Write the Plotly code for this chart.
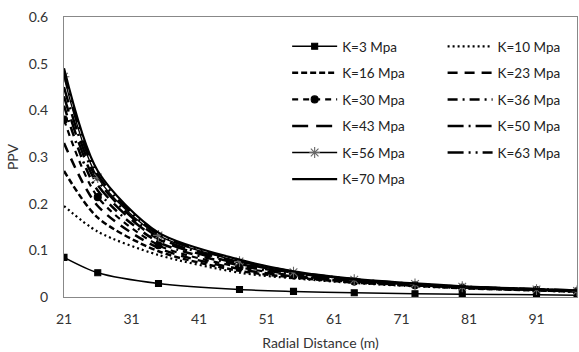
import plotly.graph_objects as go

# Radial distance (m)
distance = [21, 26, 35, 47, 55, 64, 73, 80, 91, 97]

# PPV values, one list per K value
ppv_k3  = [0.085, 0.052, 0.029, 0.016, 0.012, 0.009, 0.007, 0.006, 0.005, 0.004]
ppv_k10 = [0.195, 0.140, 0.090, 0.052, 0.040, 0.030, 0.023, 0.019, 0.014, 0.011]
ppv_k16 = [0.270, 0.170, 0.098, 0.056, 0.042, 0.031, 0.024, 0.019, 0.014, 0.012]
ppv_k23 = [0.330, 0.195, 0.105, 0.060, 0.044, 0.032, 0.025, 0.020, 0.015, 0.012]
ppv_k30 = [0.380, 0.214, 0.111, 0.064, 0.046, 0.033, 0.025, 0.020, 0.015, 0.012]
ppv_k36 = [0.410, 0.228, 0.118, 0.068, 0.048, 0.034, 0.026, 0.021, 0.015, 0.013]
ppv_k43 = [0.430, 0.240, 0.124, 0.071, 0.050, 0.035, 0.027, 0.021, 0.016, 0.013]
ppv_k50 = [0.450, 0.250, 0.128, 0.074, 0.052, 0.036, 0.027, 0.022, 0.016, 0.013]
ppv_k56 = [0.472, 0.256, 0.132, 0.076, 0.053, 0.037, 0.028, 0.022, 0.016, 0.013]
ppv_k63 = [0.480, 0.262, 0.135, 0.078, 0.054, 0.038, 0.028, 0.022, 0.017, 0.014]
ppv_k70 = [0.490, 0.270, 0.138, 0.080, 0.055, 0.039, 0.029, 0.023, 0.017, 0.014]

series_names = ["K=3 Mpa", "K=10 Mpa", "K=16 Mpa", "K=23 Mpa", "K=30 Mpa", "K=36 Mpa",
                "K=43 Mpa", "K=50 Mpa", "K=56 Mpa", "K=63 Mpa", "K=70 Mpa"]
series_values = [ppv_k3, ppv_k10, ppv_k16, ppv_k23, ppv_k30, ppv_k36,
                 ppv_k43, ppv_k50, ppv_k56, ppv_k63, ppv_k70]

x_ticks = [21, 31, 41, 51, 61, 71, 81, 91]
y_ticks = [0, 0.1, 0.2, 0.3, 0.4, 0.5, 0.6]
y_tick_labels = ["0", "0.1", "0.2", "0.3", "0.4", "0.5", "0.6"]

styles = [
    dict(dash="solid", width=1.5, marker="square", msize=6),
    dict(dash="2px,3px", width=2.2, marker=None, msize=0),
    dict(dash="6px,3px", width=2.5, marker=None, msize=0),
    dict(dash="10px,7px", width=2.5, marker=None, msize=0),
    dict(dash="6px,5px", width=2.2, marker="circle", msize=7),
    dict(dash="10px,5px,2px,5px", width=2.5, marker=None, msize=0),
    dict(dash="16px,8px", width=2.5, marker=None, msize=0),
    dict(dash="16px,5px,2px,5px", width=2.5, marker=None, msize=0),
    dict(dash="solid", width=1.3, marker="asterisk-open", msize=9),
    dict(dash="16px,5px,2px,5px,2px,5px", width=2.5, marker=None, msize=0),
    dict(dash="solid", width=2.2, marker=None, msize=0),
]

fig = go.Figure()
for i, (name, vals, st) in enumerate(zip(series_names, series_values, styles)):
    mode = "lines+markers" if st["marker"] else "lines"
    tr = dict(
        x=distance, y=vals, name=name, mode=mode,
        line=dict(color="black", width=st["width"], dash=st["dash"], shape="spline", smoothing=0.8),
        legendgroup=name,
        legend="legend" if i % 2 == 0 else "legend2",
    )
    if st["marker"]:
        mcol = "#666666" if st["marker"] == "asterisk-open" else "black"
        tr["marker"] = dict(symbol=st["marker"], size=st["msize"], color=mcol,
                            line=dict(color=mcol, width=1.1))
    fig.add_trace(go.Scatter(**tr))

font_family = "Lato, Carlito, Calibri, sans-serif"
legend_common = dict(
    bgcolor="rgba(0,0,0,0)", borderwidth=0,
    font=dict(family=font_family, size=13.5, color="#222"),
    tracegroupgap=6, itemwidth=45, yanchor="top", xanchor="left",
)

fig.update_layout(
    width=579, height=352,
    margin=dict(l=64, r=2, t=17, b=55),
    paper_bgcolor="white", plot_bgcolor="white",
    font=dict(family=font_family, size=14, color="#333"),
    showlegend=True,
    legend=dict(x=0.435, y=0.95, **legend_common),
    legend2=dict(x=0.738, y=0.95, **legend_common),
    xaxis=dict(
        range=[21, 97], tickvals=x_ticks, ticktext=[str(v) for v in x_ticks],
        showgrid=False, zeroline=False, showline=True, linecolor="#888", linewidth=1,
        mirror=True, ticks="", ticklabelstandoff=9, tickfont=dict(size=14, color="#333"),
        title=dict(text="Radial Distance (m)", font=dict(size=14, color="#333"), standoff=12),
    ),
    yaxis=dict(
        range=[0, 0.6], tickvals=y_ticks, ticktext=y_tick_labels,
        showgrid=False, zeroline=False, showline=True, linecolor="#888", linewidth=1,
        mirror=True, ticks="", ticklabelstandoff=12, tickfont=dict(size=14, color="#333"),
        title=dict(text="PPV", font=dict(size=14, color="#333"), standoff=6),
    ),
)

fig.write_html("out.html")
